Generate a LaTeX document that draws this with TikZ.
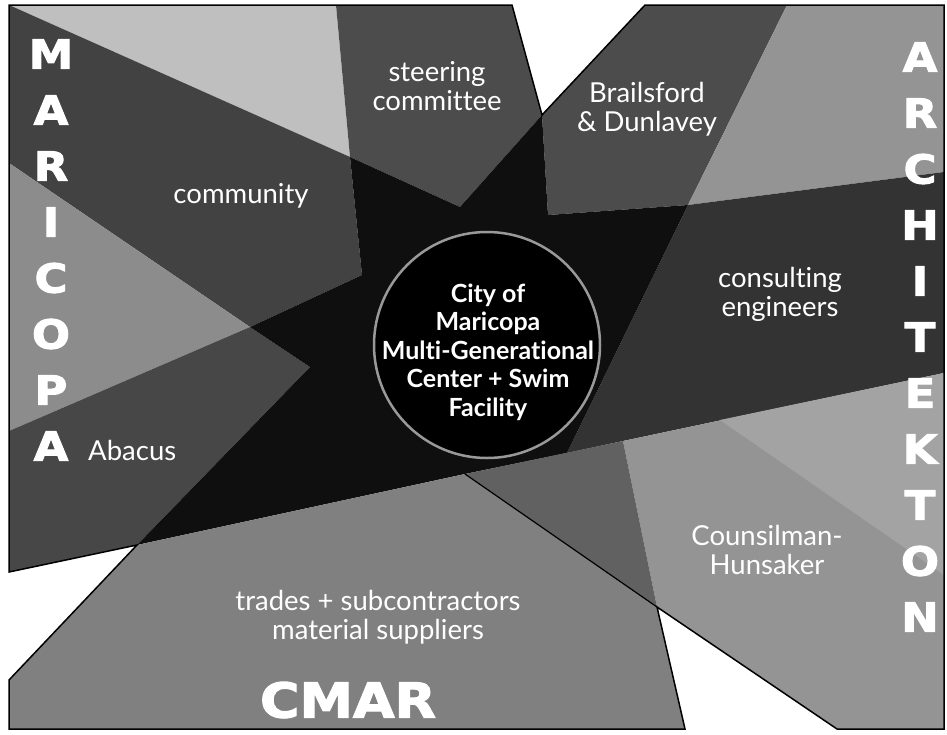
\documentclass[tikz,border=0pt]{standalone}
\usepackage{fontspec}
\setmainfont{Lato}[Ligatures=NoCommon]
\newfontfamily\blockfont{DejaVu Sans}[BoldFeatures={FakeBold=2.5,FakeStretch=1.12}]
\usetikzlibrary{positioning}

\begin{document}
\begin{tikzpicture}[
    x=1pt, y=-1pt,
    panel/.style={draw=none},
    tag/.style={text=white, font=\fontsize{27.5}{29}\selectfont, align=center, inner sep=0pt},
    big/.style={text=white, font=\blockfont\bfseries\fontsize{40}{40}\selectfont, inner sep=0pt},
]
\useasboundingbox (0,0) rectangle (947,734);

% Maricopa side
\fill[panel, black!25] (9,5) -- (336,5) -- (350,157) -- cycle;
\fill[panel, black!74] (9,5) -- (350,157) -- (362,275) -- (250,327) -- (9,163) -- cycle;
\fill[panel, black!45] (9,163) -- (250,327) -- (9,431) -- cycle;
\fill[panel, black!72] (9,431) -- (250,327) -- (310,367) -- (137,545) -- (9,572) -- cycle;
\fill[panel, black!70] (336,5) -- (512,5) -- (542,115) -- (460,207) -- (350,157) -- cycle;

% Architekton side
\fill[panel, black!70] (542,115) -- (645,5) -- (787,5) -- (688,205) -- (548,215) -- cycle;
\fill[panel, black!42] (787,5) -- (944,5) -- (944,172) -- (688,205) -- cycle;
\fill[panel, black!80] (688,205) -- (944,172) -- (944,373) -- (623,441) -- (567,453) -- cycle;
\fill[panel, black!42] (623,441) -- (944,373) -- (944,729) -- (837,729) -- (657,607) -- cycle;
\fill[panel, black!36] (720,420) -- (944,373) -- (944,575) -- cycle;

% Middle
\fill[panel, black!94] (350,157) -- (460,207) -- (542,115) -- (548,215) -- (688,205) -- (567,453)
    -- (465,474) -- (137,545) -- (310,367) -- (250,327) -- (362,275) -- cycle;

% CMAR side
\fill[panel, black!50] (137,545) -- (465,474) -- (657,607) -- (685,729) -- (9,729) -- (9,680) -- cycle;
\fill[panel, black!62] (465,474) -- (623,441) -- (657,607) -- cycle;

% Outline
\draw[black, line width=1.5pt, line join=miter] (9,5) -- (512,5) -- (542,115) -- (645,5) -- (944,5) -- (944,729)
    -- (837,729) -- (657,607) -- (685,729) -- (9,729) -- (9,680) -- (137,545) -- (9,572) -- cycle;
\draw[black, line width=1.2pt] (465,474) -- (657,607);

% Hub
\node[circle, fill=black, draw=black!40, line width=2.5pt, minimum size=226pt, inner sep=0pt] (hub) at (487,345) {};
\node[text=white, font=\bfseries\fontsize{25}{28.5}\selectfont, align=center, inner sep=0pt] (hubtext) at (488,352)
    {City of\\Maricopa\\Multi-Generational\\Center + Swim\\Facility};

% Labels
\node[tag] (steering) at (437,86) {steering\\committee};
\node[tag] (community) at (241,196) {community};
\node[tag] (brailsford) at (647,109) {Brailsford\\\& Dunlavey};
\node[tag] (consulting) at (780,294) {consulting\\engineers};
\node[tag] (counsilman) at (767,550) {Counsilman-\\Hunsaker};
\node[tag] (trades) at (378,617) {trades + subcontractors\\material suppliers};
\node[tag, anchor=west] (abacus) at (88,450) {Abacus};

% Group names
\foreach \c [count=\i] in {M,A,R,I,C,O,P,A}
    \node[big] (maricopa-\i) at (51,{54+56*(\i-1)}) {\c};
\foreach \c [count=\i] in {A,R,C,H,I,T,E,K,T,O,N}
    \node[big] (architekton-\i) at (920,{57+56*(\i-1)}) {\c};
\node[big, font=\blockfont\bfseries\fontsize{48}{48}\selectfont] (cmar) at (348,700) {CMAR};

\end{tikzpicture}
\end{document}
